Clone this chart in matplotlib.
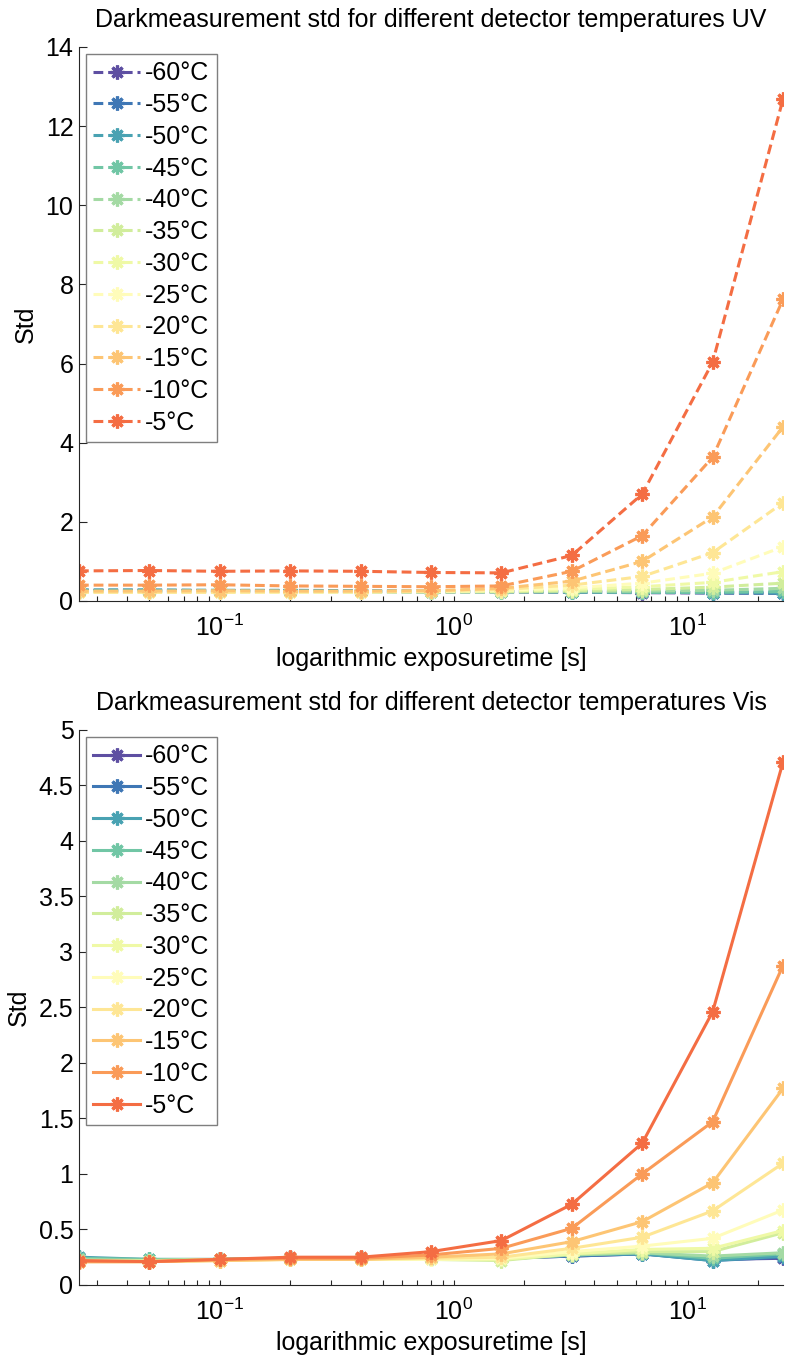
import numpy as np
import matplotlib
matplotlib.use('Agg')
import matplotlib.pyplot as plt
from matplotlib.ticker import LogLocator, NullFormatter, FuncFormatter

plt.rcParams['font.family'] = ['Liberation Sans', 'DejaVu Sans']
plt.rcParams['mathtext.fontset'] = 'custom'
plt.rcParams['mathtext.rm'] = 'Liberation Sans'

# exposure times [s]
exposure = [0.025, 0.05, 0.1, 0.2, 0.4, 0.8, 1.6, 3.2, 6.4, 12.8, 25.6]
temps = ['-60°C', '-55°C', '-50°C', '-45°C', '-40°C', '-35°C',
         '-30°C', '-25°C', '-20°C', '-15°C', '-10°C', '-5°C']

# UV std, one row per temperature
uv_std = [
    [0.26, 0.26, 0.25, 0.25, 0.24, 0.23, 0.23, 0.22, 0.21, 0.20, 0.19],
    [0.27, 0.27, 0.26, 0.26, 0.25, 0.24, 0.24, 0.23, 0.22, 0.21, 0.20],
    [0.28, 0.28, 0.27, 0.27, 0.26, 0.25, 0.24, 0.23, 0.22, 0.21, 0.20],
    [0.25, 0.25, 0.25, 0.24, 0.24, 0.23, 0.23, 0.23, 0.22, 0.22, 0.24],
    [0.24, 0.24, 0.24, 0.24, 0.23, 0.23, 0.23, 0.24, 0.25, 0.27, 0.32],
    [0.23, 0.23, 0.23, 0.23, 0.23, 0.23, 0.24, 0.26, 0.29, 0.35, 0.45],
    [0.23, 0.23, 0.23, 0.23, 0.23, 0.24, 0.25, 0.29, 0.36, 0.47, 0.74],
    [0.22, 0.22, 0.22, 0.22, 0.23, 0.24, 0.27, 0.33, 0.45, 0.70, 1.37],
    [0.22, 0.22, 0.22, 0.23, 0.23, 0.25, 0.29, 0.40, 0.62, 1.22, 2.48],
    [0.25, 0.25, 0.26, 0.25, 0.25, 0.26, 0.32, 0.50, 1.00, 2.12, 4.40],
    [0.40, 0.40, 0.41, 0.38, 0.37, 0.36, 0.38, 0.75, 1.65, 3.63, 7.62],
    [0.76, 0.77, 0.75, 0.76, 0.75, 0.72, 0.71, 1.15, 2.70, 6.03, 12.68],
]

# Vis std, one row per temperature
vis_std = [
    [0.24, 0.22, 0.23, 0.24, 0.24, 0.24, 0.24, 0.26, 0.28, 0.23, 0.24],
    [0.24, 0.22, 0.23, 0.24, 0.24, 0.24, 0.24, 0.26, 0.28, 0.22, 0.25],
    [0.25, 0.23, 0.23, 0.24, 0.24, 0.24, 0.24, 0.27, 0.28, 0.22, 0.26],
    [0.24, 0.23, 0.23, 0.24, 0.24, 0.24, 0.24, 0.27, 0.29, 0.24, 0.28],
    [0.23, 0.22, 0.23, 0.24, 0.24, 0.24, 0.23, 0.27, 0.29, 0.26, 0.29],
    [0.22, 0.22, 0.23, 0.23, 0.23, 0.23, 0.22, 0.28, 0.30, 0.30, 0.47],
    [0.22, 0.21, 0.23, 0.23, 0.23, 0.23, 0.23, 0.28, 0.32, 0.33, 0.49],
    [0.21, 0.21, 0.22, 0.23, 0.23, 0.23, 0.24, 0.30, 0.35, 0.42, 0.675],
    [0.21, 0.21, 0.22, 0.23, 0.23, 0.24, 0.25, 0.33, 0.43, 0.667, 1.096],
    [0.21, 0.21, 0.22, 0.23, 0.23, 0.25, 0.28, 0.39, 0.57, 0.92, 1.77],
    [0.21, 0.21, 0.23, 0.24, 0.24, 0.27, 0.33, 0.51, 1.00, 1.47, 2.877],
    [0.22, 0.21, 0.23, 0.25, 0.25, 0.30, 0.40, 0.727, 1.277, 2.46, 4.71],
]

colors = plt.cm.Spectral_r(np.linspace(0, 0.8, len(temps)))
axcol = '#262626'
fs = 18

fig = plt.figure(figsize=(7.89, 13.56), dpi=100)
ax1 = fig.add_axes([0.1001, 0.5568, 0.8923, 0.4086])
ax2 = fig.add_axes([0.1001, 0.0524, 0.8923, 0.4093])


def draw(ax, data, ls, title, ymax, ystep):
    for row, lab, c in zip(data, temps, colors):
        ax.plot(exposure, row, linestyle=ls, color=c, lw=2.2,
                marker=(8, 2, 0), markersize=10, markeredgewidth=2.3,
                label=lab, dashes=(3.2, 1.6) if ls == '--' else (None, None))
    ax.set_xscale('log')
    ax.set_xlim(exposure[0], exposure[-1])
    ax.set_ylim(0, ymax)
    ax.set_yticks(np.arange(0, ymax + ystep / 2, ystep))
    ax.yaxis.set_major_formatter(FuncFormatter(lambda v, p: '%g' % v))
    ax.xaxis.set_major_locator(LogLocator(base=10, numticks=10))
    ax.xaxis.set_minor_locator(LogLocator(base=10, subs=np.arange(2, 10), numticks=20))
    ax.xaxis.set_minor_formatter(NullFormatter())
    for s in ['top', 'right']:
        ax.spines[s].set_visible(False)
    for s in ['left', 'bottom']:
        ax.spines[s].set_color(axcol)
        ax.spines[s].set_linewidth(0.8)
    ax.tick_params(axis='both', which='both', direction='in', colors=axcol,
                   labelcolor='black', width=0.8)
    ax.tick_params(axis='y', which='major', length=5.5, pad=4, labelsize=fs)
    ax.tick_params(axis='x', which='major', length=3.5, pad=10, labelsize=fs)
    ax.tick_params(axis='x', which='minor', length=3.5)
    ax.set_title(title, fontsize=fs, pad=14)
    ax.set_xlabel('logarithmic exposuretime [s]', fontsize=fs, labelpad=4)
    ax.set_ylabel('Std', fontsize=fs, labelpad=5.5)
    leg = ax.legend(loc='upper left', fontsize=fs, handlelength=1.85,
                    handletextpad=0.2, labelspacing=0.31, borderpad=0.3,
                    borderaxespad=0.28, fancybox=False, framealpha=1)
    leg.get_frame().set_edgecolor('#7f7f7f')
    leg.get_frame().set_linewidth(1.0)


draw(ax1, uv_std, '--', 'Darkmeasurement std for different detector temperatures UV', 14, 2)
draw(ax2, vis_std, '-', 'Darkmeasurement std for different detector temperatures Vis', 5, 0.5)

fig.savefig('out.png', dpi=100)
